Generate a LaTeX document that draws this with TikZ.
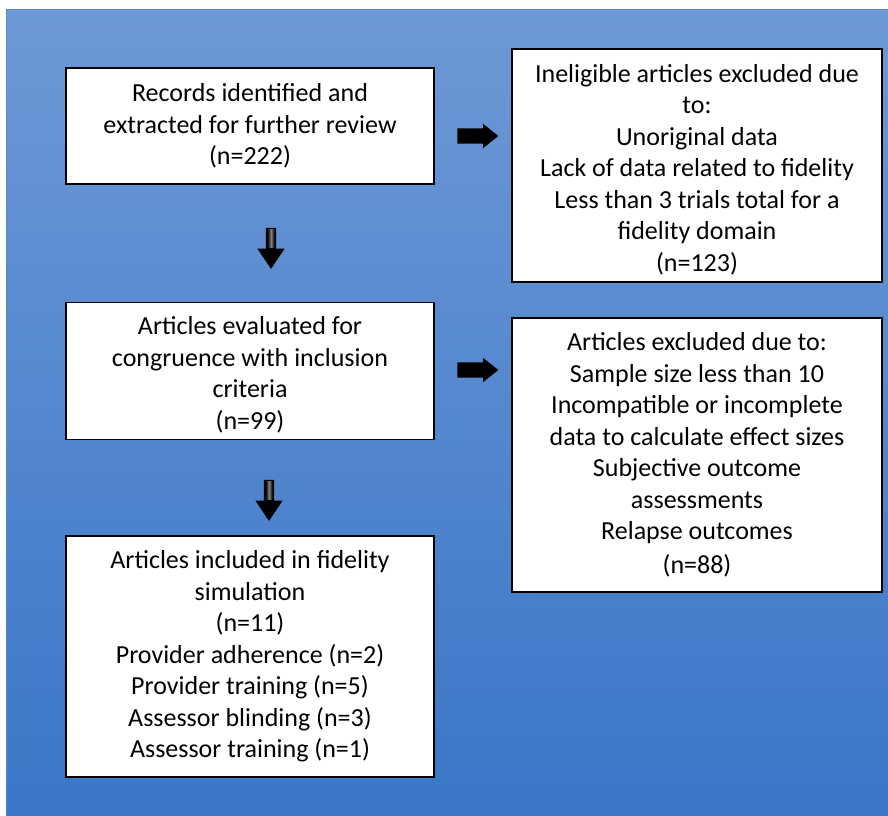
\documentclass[tikz,border=0pt]{standalone}
\usepackage{fontspec}
\setmainfont{Carlito}
\usetikzlibrary{shapes.arrows,calc}
\definecolor{bgtop}{RGB}{110,152,214}
\definecolor{bgbot}{RGB}{58,119,199}
\definecolor{bgline}{RGB}{88,136,206}
\begin{document}
\begin{tikzpicture}[x=1pt,y=-1pt,
  box/.style={draw=black, line width=1.6pt, fill=white, align=center,
    font=\fontsize{26}{31.5}\selectfont, inner sep=0pt},
  harrow/.style={single arrow, fill=black, draw=none, inner xsep=0pt, inner ysep=7.5pt,
    minimum height=41pt, single arrow head extend=4.5pt,
    single arrow tip angle=77},
  varrow/.style={single arrow, fill=black, draw=none, inner xsep=0pt, inner ysep=5pt, rotate=-90,
    minimum height=41pt, single arrow head extend=8.5pt,
    single arrow tip angle=68},
  shine/.style={left color=black, right color=black, middle color=black!50}]
\useasboundingbox (0,0) rectangle (888,815);
\shade[top color=bgtop, bottom color=bgbot] (6,9) rectangle (888,815);
\draw[bgline, line width=1pt] (6,9.5) -- (888,9.5);
\draw[bgline, line width=1pt] (6.5,9) -- (6.5,815);

\node[box, minimum width=368pt, minimum height=116pt] (rec) at (250,126)
  {Records identified and\\extracted for further review\\(n=222)};
\node[box, minimum width=370pt, minimum height=233pt] (inel) at (697,165.5)
  {\rule{0pt}{26pt}Ineligible articles excluded due\\to:\\Unoriginal data\\Lack of data related to fidelity\\Less than 3 trials total for a\\fidelity domain\\(n=123)};
\node[box, minimum width=368pt, minimum height=137pt] (eval) at (250,371)
  {\rule{0pt}{26pt}Articles evaluated for\\congruence with inclusion\\criteria\\(n=99)};
\node[box, minimum width=370pt, minimum height=274pt] (excl) at (697,455)
  {Articles excluded due to:\\Sample size less than 10\\Incompatible or incomplete\\data to calculate effect sizes\\Subjective outcome\\assessments\\Relapse outcomes\\[2pt](n=88)};
\node[box, minimum width=368pt, minimum height=241pt] (incl) at (250,656.5)
  {Articles included in fidelity\\simulation\\(n=11)\\Provider adherence (n=2)\\Provider training (n=5)\\Assessor blinding (n=3)\\Assessor training (n=1)};

\node[harrow] (a1) at (473,136) {};
\node[harrow] (a2) at (473,370) {};
\node[varrow] (d1) at (271,244.5) {};
\node[varrow] (d2) at (269,496.5) {};
\shade[shine] ($(d1.tail)+(-3.5,1.5)$) rectangle ($(d1.tail)+(3.5,20)$);
\shade[shine] ($(d2.tail)+(-3.5,1.5)$) rectangle ($(d2.tail)+(3.5,20)$);
\end{tikzpicture}
\end{document}
